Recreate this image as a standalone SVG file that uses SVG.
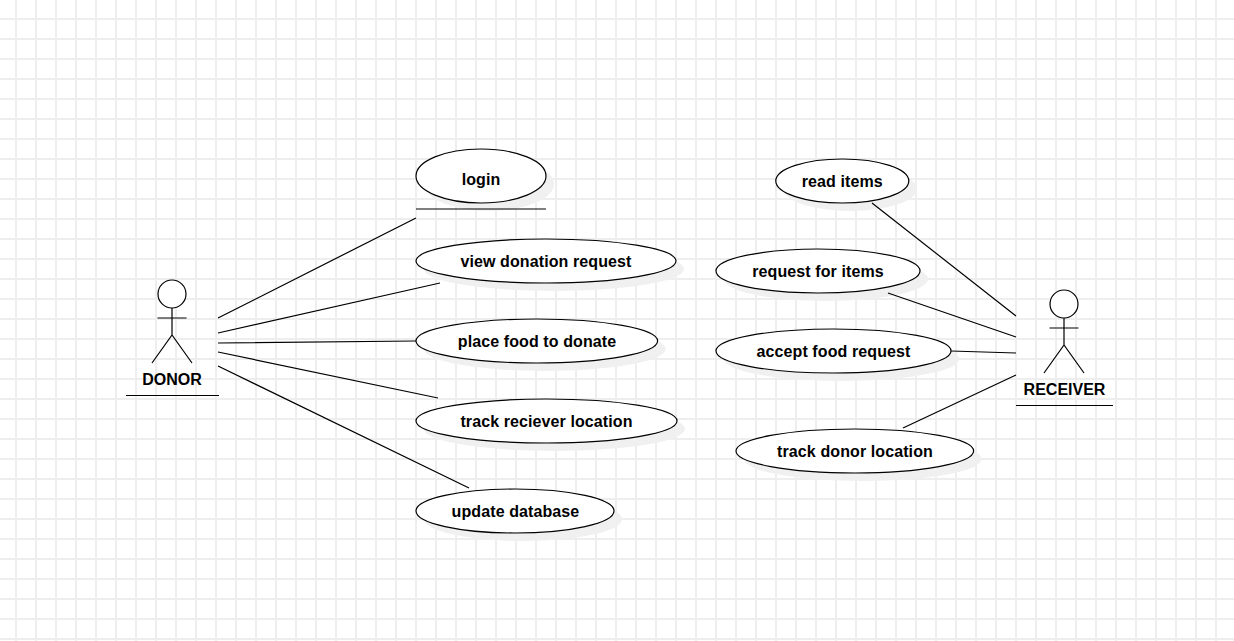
<svg xmlns="http://www.w3.org/2000/svg" width="1234" height="641" viewBox="0 0 1234 641">
<style>
.t{font-family:"Liberation Sans",Arial,sans-serif;font-size:16px;font-weight:bold;fill:#000;text-anchor:middle;letter-spacing:.1px}
.a{font-family:"Liberation Sans",Arial,sans-serif;font-size:16px;font-weight:bold;fill:#000;text-anchor:middle}
.e{fill:#fff;stroke:#000;stroke-width:1.2}
.s{fill:#f0f0f0}
.l{fill:none;stroke:#000;stroke-width:1.2}
</style>
<defs>
<pattern id="grid" width="20" height="20" patternUnits="userSpaceOnUse">
<path d="M15 0h2v20h-2zM0 18h20v2H0z" fill="#eeeeee"/>
</pattern>
</defs>
<rect width="1234" height="641" fill="#fff"/>
<rect width="1234" height="641" fill="url(#grid)"/>
<g id="donor"><path class="l" d="M172 308V335M157.500 318H186.500M152 363L172 335L192 363"/><circle class="e" cx="172" cy="294" r="14"/><text class="a" x="172" y="385">DONOR</text><path class="l" d="M126 395.500H219"/></g>
<g id="receiver"><path class="l" d="M1064 318V345M1049.500 328H1078.500M1044 373L1064 345L1084 373"/><circle class="e" cx="1064" cy="304" r="14"/><text class="a" x="1064.500" y="395">RECEIVER</text><path class="l" d="M1016 405.500H1113"/></g>
<g id="login"><ellipse class="s" cx="489" cy="184" rx="65" ry="27"/><ellipse class="e" cx="481" cy="176" rx="65" ry="27"/><text class="t" x="481" y="185">login</text><path class="l" d="M416 209H546"/></g>
<g id="view-donation-request"><ellipse class="s" cx="554" cy="269" rx="130" ry="22"/><ellipse class="e" cx="546" cy="261" rx="130" ry="22"/><text class="t" x="546" y="267">view donation request</text></g>
<g id="place-food"><ellipse class="s" cx="544.800" cy="349" rx="120.800" ry="22"/><ellipse class="e" cx="536.800" cy="341" rx="120.800" ry="22"/><text class="t" x="537" y="347">place food to donate</text></g>
<g id="track-reciever"><ellipse class="s" cx="554.500" cy="429" rx="130.500" ry="22"/><ellipse class="e" cx="546.500" cy="421" rx="130.500" ry="22"/><text class="t" x="546.500" y="427">track reciever location</text></g>
<g id="update-database"><ellipse class="s" cx="523" cy="519" rx="99" ry="22"/><ellipse class="e" cx="515" cy="511" rx="99" ry="22"/><text class="t" x="515.500" y="517">update database</text></g>
<g id="read-items"><ellipse class="s" cx="850.300" cy="189" rx="66.500" ry="22"/><ellipse class="e" cx="842.300" cy="181" rx="66.500" ry="22"/><text class="t" x="842.300" y="187">read items</text></g>
<g id="request-items"><ellipse class="s" cx="826" cy="279" rx="102" ry="22"/><ellipse class="e" cx="818" cy="271" rx="102" ry="22"/><text class="t" x="818" y="277">request for items</text></g>
<g id="accept-food"><ellipse class="s" cx="841.500" cy="359" rx="117.500" ry="22"/><ellipse class="e" cx="833.500" cy="351" rx="117.500" ry="22"/><text class="t" x="833.500" y="357">accept food request</text></g>
<g id="track-donor"><ellipse class="s" cx="862.800" cy="459" rx="118.800" ry="22"/><ellipse class="e" cx="854.800" cy="451" rx="118.800" ry="22"/><text class="t" x="855" y="457">track donor location</text></g>
<g id="connectors">
<path class="l" d="M218 318L416 218M218 333L440 283M218 343L416 341M218 352L438 398M218 366L469 488M872 203L1016 316M888 293L1016 337M951 351L1016 353M903 428L1016 375"/>
</g>
</svg>
